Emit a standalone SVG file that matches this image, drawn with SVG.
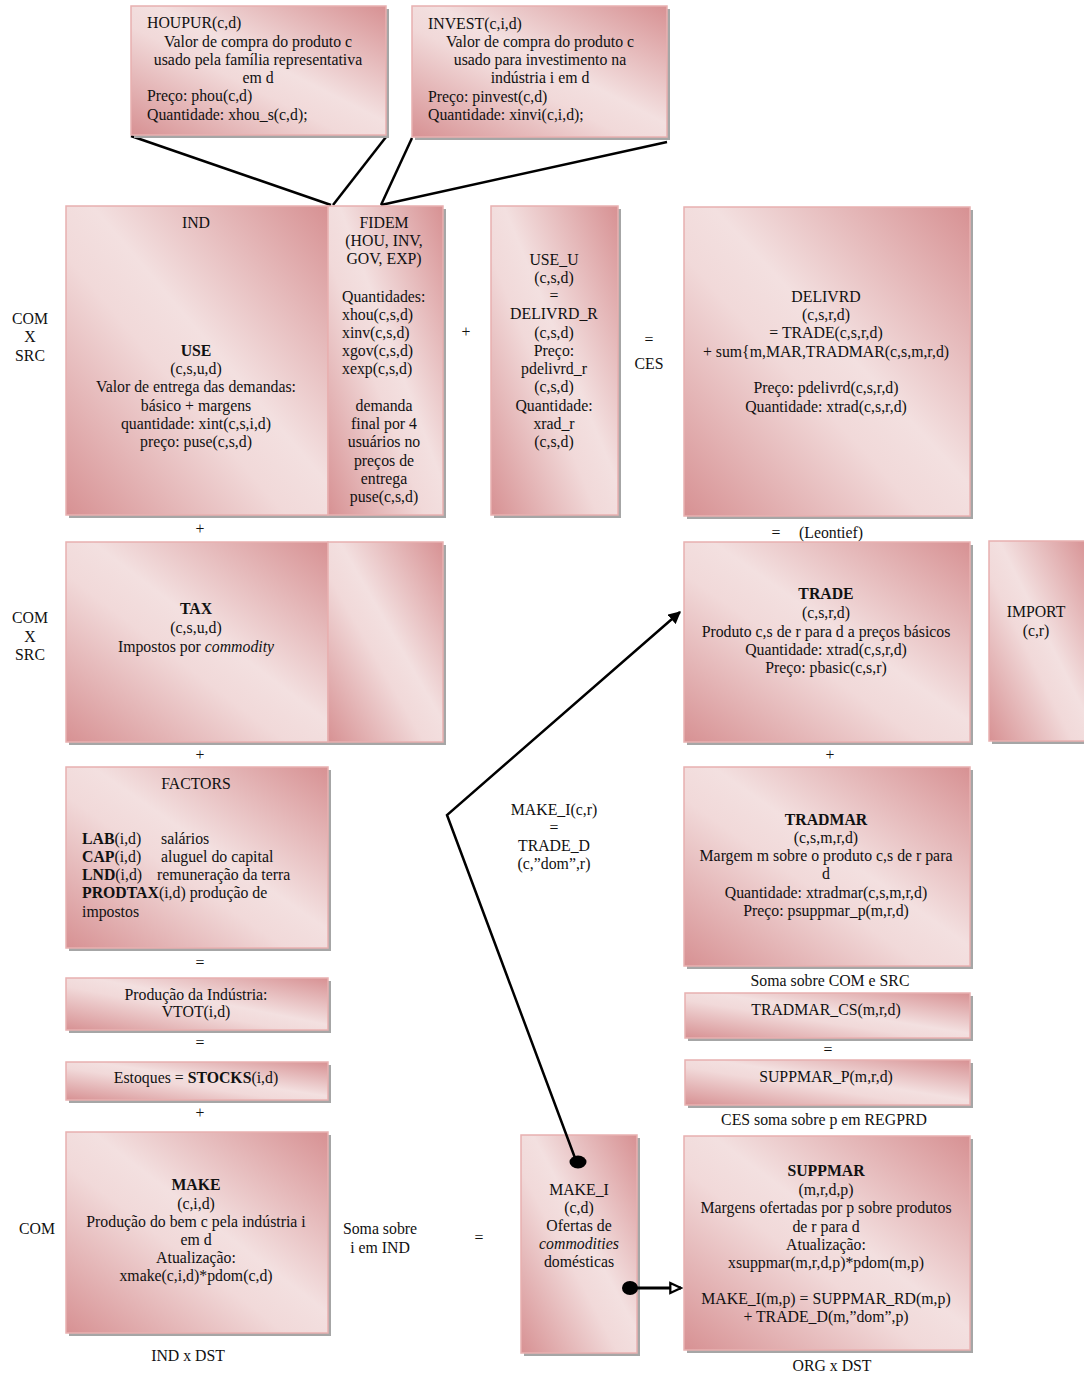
<svg xmlns="http://www.w3.org/2000/svg" width="1084" height="1378" viewBox="0 0 1084 1378">
  <defs>
    <linearGradient id="rose" x1="1" y1="0" x2="0" y2="1">
      <stop offset="0" stop-color="#d79193"/>
      <stop offset="0.45" stop-color="#f3e0e0"/>
      <stop offset="0.58" stop-color="#f1d9d9"/>
      <stop offset="1" stop-color="#d79193"/>
    </linearGradient>
    <marker id="arrow" viewBox="0 0 10 10" refX="9" refY="5" markerWidth="5" markerHeight="5" orient="auto" markerUnits="strokeWidth">
      <path d="M0,0 L10,5 L0,10 z" fill="#000"/>
    </marker>
    <marker id="openArrow" viewBox="0 0 12 12" refX="10.5" refY="6" markerWidth="4.5" markerHeight="4.5" orient="auto" markerUnits="strokeWidth">
      <path d="M1,1.5 L10.5,6 L1,10.5 z" fill="#fff" stroke="#000" stroke-width="2" stroke-linejoin="miter"/>
    </marker>
  </defs>
  <style>
    text { font-family: "Liberation Serif", "Times New Roman", serif; font-size: 15.8px; fill: #111; }
    .c { text-anchor: middle; }
    .b { font-weight: bold; }
    .i { font-style: italic; }
    .box { fill: url(#rose); stroke: #e8b0b0; stroke-width: 1.5; }
    .shadow { fill: #a6a6a6; }
    .line { stroke: #000; stroke-width: 2.5; fill: none; }
  </style>
  <rect width="1084" height="1378" fill="#fff"/>

  <!-- connectors -->
  <g id="connectors">
    <line class="line" x1="131" y1="136" x2="331" y2="205"/>
    <line class="line" x1="386" y1="137" x2="333" y2="205"/>
    <line class="line" x1="412" y1="138" x2="381" y2="205"/>
    <line class="line" x1="667" y1="142" x2="381" y2="205"/>
  </g>

  <!-- top boxes -->
  <g id="houpur">
    <rect class="shadow" x="134" y="9" width="255" height="129"/>
    <rect class="box" x="131" y="6" width="255" height="129"/>
    <text x="147" y="28">HOUPUR(c,d)</text>
    <text class="c" x="258" y="47">Valor de compra do produto c</text>
    <text class="c" x="258" y="65">usado pela família representativa</text>
    <text class="c" x="258" y="83">em d</text>
    <text x="147" y="101">Preço: phou(c,d)</text>
    <text x="147" y="120">Quantidade: xhou_s(c,d);</text>
  </g>
  <g id="invest">
    <rect class="shadow" x="415" y="9" width="255" height="131"/>
    <rect class="box" x="412" y="6" width="255" height="131"/>
    <text x="428" y="29">INVEST(c,i,d)</text>
    <text class="c" x="540" y="47">Valor de compra do produto c</text>
    <text class="c" x="540" y="65">usado para investimento na</text>
    <text class="c" x="540" y="83">indústria i em d</text>
    <text x="428" y="102">Preço: pinvest(c,d)</text>
    <text x="428" y="120">Quantidade: xinvi(c,i,d);</text>
  </g>

  <!-- row labels and operators -->
  <g id="labels">
    <text class="c" x="30" y="324">COM</text>
    <text class="c" x="30" y="342">X</text>
    <text class="c" x="30" y="361">SRC</text>
    <text class="c" x="466" y="337">+</text>
    <text class="c" x="649" y="345">=</text>
    <text class="c" x="649" y="369">CES</text>
    <text class="c" x="200" y="534">+</text>
    <text class="c" x="776" y="538">=</text>
    <text x="799" y="538">(Leontief)</text>
    <text class="c" x="30" y="623">COM</text>
    <text class="c" x="30" y="642">X</text>
    <text class="c" x="30" y="660">SRC</text>
    <text class="c" x="200" y="760">+</text>
    <text class="c" x="830" y="760">+</text>
    <text class="c" x="200" y="968">=</text>
    <text class="c" x="830" y="986">Soma sobre COM e SRC</text>
    <text class="c" x="200" y="1048">=</text>
    <text class="c" x="828" y="1055">=</text>
    <text class="c" x="200" y="1118">+</text>
    <text class="c" x="824" y="1125">CES soma sobre p em REGPRD</text>
    <text class="c" x="37" y="1234">COM</text>
    <text class="c" x="380" y="1234">Soma sobre</text>
    <text class="c" x="380" y="1253">i em IND</text>
    <text class="c" x="479" y="1243">=</text>
    <text class="c" x="188" y="1361">IND x DST</text>
    <text class="c" x="832" y="1371">ORG x DST</text>
    <text class="c" x="554" y="815">MAKE_I(c,r)</text>
    <text class="c" x="554" y="833">=</text>
    <text class="c" x="554" y="851">TRADE_D</text>
    <text class="c" x="554" y="869">(c,”dom”,r)</text>
  </g>

  <!-- USE / FIDEM -->
  <g id="use">
    <rect class="shadow" x="69" y="209" width="377" height="309"/>
    <rect class="box" x="66" y="206" width="262" height="309"/>
    <text class="c" x="196" y="228">IND</text>
    <text class="c b" x="196" y="356">USE</text>
    <text class="c" x="196" y="374">(c,s,u,d)</text>
    <text class="c" x="196" y="392">Valor de entrega das demandas:</text>
    <text class="c" x="196" y="411">básico + margens</text>
    <text class="c" x="196" y="429">quantidade: xint(c,s,i,d)</text>
    <text class="c" x="196" y="447">preço: puse(c,s,d)</text>
  </g>
  <g id="fidem">
    <rect class="box" x="328" y="206" width="115" height="309"/>
    <text class="c" x="384" y="228">FIDEM</text>
    <text class="c" x="384" y="246">(HOU, INV,</text>
    <text class="c" x="384" y="264">GOV, EXP)</text>
    <text x="342" y="302">Quantidades:</text>
    <text x="342" y="320">xhou(c,s,d)</text>
    <text x="342" y="338">xinv(c,s,d)</text>
    <text x="342" y="356">xgov(c,s,d)</text>
    <text x="342" y="374">xexp(c,s,d)</text>
    <text class="c" x="384" y="411">demanda</text>
    <text class="c" x="384" y="429">final por 4</text>
    <text class="c" x="384" y="447">usuários no</text>
    <text class="c" x="384" y="466">preços de</text>
    <text class="c" x="384" y="484">entrega</text>
    <text class="c" x="384" y="502">puse(c,s,d)</text>
  </g>

  <g id="use_u">
    <rect class="shadow" x="494" y="209" width="127" height="309"/>
    <rect class="box" x="491" y="206" width="127" height="309"/>
    <text class="c" x="554" y="265">USE_U</text>
    <text class="c" x="554" y="283">(c,s,d)</text>
    <text class="c" x="554" y="301">=</text>
    <text class="c" x="554" y="319">DELIVRD_R</text>
    <text class="c" x="554" y="338">(c,s,d)</text>
    <text class="c" x="554" y="356">Preço:</text>
    <text class="c" x="554" y="374">pdelivrd_r</text>
    <text class="c" x="554" y="392">(c,s,d)</text>
    <text class="c" x="554" y="411">Quantidade:</text>
    <text class="c" x="554" y="429">xrad_r</text>
    <text class="c" x="554" y="447">(c,s,d)</text>
  </g>

  <g id="delivrd">
    <rect class="shadow" x="687" y="210" width="286" height="309"/>
    <rect class="box" x="684" y="207" width="286" height="309"/>
    <text class="c" x="826" y="302">DELIVRD</text>
    <text class="c" x="826" y="320">(c,s,r,d)</text>
    <text class="c" x="826" y="338">= TRADE(c,s,r,d)</text>
    <text class="c" x="826" y="357">+ sum{m,MAR,TRADMAR(c,s,m,r,d)</text>
    <text class="c" x="826" y="393">Preço: pdelivrd(c,s,r,d)</text>
    <text class="c" x="826" y="412">Quantidade: xtrad(c,s,r,d)</text>
  </g>

  <!-- TAX -->
  <g id="tax">
    <rect class="shadow" x="69" y="545" width="377" height="200"/>
    <rect class="box" x="66" y="542" width="262" height="200"/>
    <rect class="box" x="328" y="542" width="115" height="200"/>
    <text class="c b" x="196" y="614">TAX</text>
    <text class="c" x="196" y="633">(c,s,u,d)</text>
    <text class="c" x="196" y="652">Impostos por <tspan class="i">commodity</tspan></text>
  </g>

  <g id="trade">
    <rect class="shadow" x="687" y="545" width="286" height="200"/>
    <rect class="box" x="684" y="542" width="286" height="200"/>
    <text class="c b" x="826" y="599">TRADE</text>
    <text class="c" x="826" y="618">(c,s,r,d)</text>
    <text class="c" x="826" y="637">Produto c,s de r para d a preços básicos</text>
    <text class="c" x="826" y="655">Quantidade: xtrad(c,s,r,d)</text>
    <text class="c" x="826" y="673">Preço: pbasic(c,s,r)</text>
  </g>

  <g id="import">
    <rect class="shadow" x="992" y="544" width="100" height="200"/>
    <rect class="box" x="989" y="541" width="100" height="200"/>
    <text class="c" x="1036" y="617">IMPORT</text>
    <text class="c" x="1036" y="636">(c,r)</text>
  </g>

  <!-- FACTORS -->
  <g id="factors">
    <rect class="shadow" x="69" y="770" width="262" height="181"/>
    <rect class="box" x="66" y="767" width="262" height="181"/>
    <text class="c" x="196" y="789">FACTORS</text>
    <text x="82" y="844"><tspan class="b">LAB</tspan>(i,d)</text>
    <text x="161" y="844">salários</text>
    <text x="82" y="862"><tspan class="b">CAP</tspan>(i,d)</text>
    <text x="161" y="862">aluguel do capital</text>
    <text x="82" y="880"><tspan class="b">LND</tspan>(i,d)</text>
    <text x="157" y="880">remuneração da terra</text>
    <text x="82" y="898"><tspan class="b">PRODTAX</tspan>(i,d) produção de</text>
    <text x="82" y="917">impostos</text>
  </g>

  <g id="tradmar">
    <rect class="shadow" x="687" y="770" width="286" height="199"/>
    <rect class="box" x="684" y="767" width="286" height="199"/>
    <text class="c b" x="826" y="825">TRADMAR</text>
    <text class="c" x="826" y="843">(c,s,m,r,d)</text>
    <text class="c" x="826" y="861">Margem m sobre o produto c,s de r para</text>
    <text class="c" x="826" y="879">d</text>
    <text class="c" x="826" y="898">Quantidade: xtradmar(c,s,m,r,d)</text>
    <text class="c" x="826" y="916">Preço: psuppmar_p(m,r,d)</text>
  </g>

  <g id="vtot">
    <rect class="shadow" x="69" y="981" width="262" height="52"/>
    <rect class="box" x="66" y="978" width="262" height="52"/>
    <text class="c" x="196" y="1000">Produção da Indústria:</text>
    <text class="c" x="196" y="1017">VTOT(i,d)</text>
  </g>

  <g id="tradmar_cs">
    <rect class="shadow" x="688" y="996" width="285" height="45"/>
    <rect class="box" x="685" y="993" width="285" height="45"/>
    <text class="c" x="826" y="1015">TRADMAR_CS(m,r,d)</text>
  </g>

  <g id="stocks">
    <rect class="shadow" x="69" y="1065" width="262" height="38"/>
    <rect class="box" x="66" y="1062" width="262" height="38"/>
    <text class="c" x="196" y="1083">Estoques = <tspan class="b">STOCKS</tspan>(i,d)</text>
  </g>

  <g id="suppmar_p">
    <rect class="shadow" x="688" y="1063" width="285" height="45"/>
    <rect class="box" x="685" y="1060" width="285" height="45"/>
    <text class="c" x="826" y="1082">SUPPMAR_P(m,r,d)</text>
  </g>

  <!-- MAKE -->
  <g id="make">
    <rect class="shadow" x="69" y="1135" width="262" height="201"/>
    <rect class="box" x="66" y="1132" width="262" height="201"/>
    <text class="c b" x="196" y="1190">MAKE</text>
    <text class="c" x="196" y="1209">(c,i,d)</text>
    <text class="c" x="196" y="1227">Produção do bem c pela indústria i</text>
    <text class="c" x="196" y="1245">em d</text>
    <text class="c" x="196" y="1263">Atualização:</text>
    <text class="c" x="196" y="1281">xmake(c,i,d)*pdom(c,d)</text>
  </g>

  <g id="make_i">
    <rect class="shadow" x="524" y="1138" width="116" height="218"/>
    <rect class="box" x="521" y="1135" width="116" height="218"/>
    <text class="c" x="579" y="1195">MAKE_I</text>
    <text class="c" x="579" y="1213">(c,d)</text>
    <text class="c" x="579" y="1231">Ofertas de</text>
    <text class="c i" x="579" y="1249">commodities</text>
    <text class="c" x="579" y="1267">domésticas</text>
  </g>

  <g id="suppmar">
    <rect class="shadow" x="687" y="1139" width="286" height="214"/>
    <rect class="box" x="684" y="1136" width="286" height="214"/>
    <text class="c b" x="826" y="1176">SUPPMAR</text>
    <text class="c" x="826" y="1195">(m,r,d,p)</text>
    <text class="c" x="826" y="1213">Margens ofertadas por p sobre produtos</text>
    <text class="c" x="826" y="1232">de r para d</text>
    <text class="c" x="826" y="1250">Atualização:</text>
    <text class="c" x="826" y="1268">xsuppmar(m,r,d,p)*pdom(m,p)</text>
    <text class="c" x="826" y="1304">MAKE_I(m,p) = SUPPMAR_RD(m,p)</text>
    <text class="c" x="826" y="1322">+ TRADE_D(m,”dom”,p)</text>
  </g>

  <!-- links from MAKE_I -->
  <g id="make_links">
    <polyline class="line" points="575,1158 447,815 680,612" marker-end="url(#arrow)"/>
    <ellipse cx="578" cy="1162" rx="8.5" ry="6.5" fill="#000"/>
    <line x1="630" y1="1288" x2="681" y2="1288" stroke="#000" stroke-width="3" marker-end="url(#openArrow)"/>
    <ellipse cx="630" cy="1288" rx="8" ry="7" fill="#000"/>
  </g>
</svg>
